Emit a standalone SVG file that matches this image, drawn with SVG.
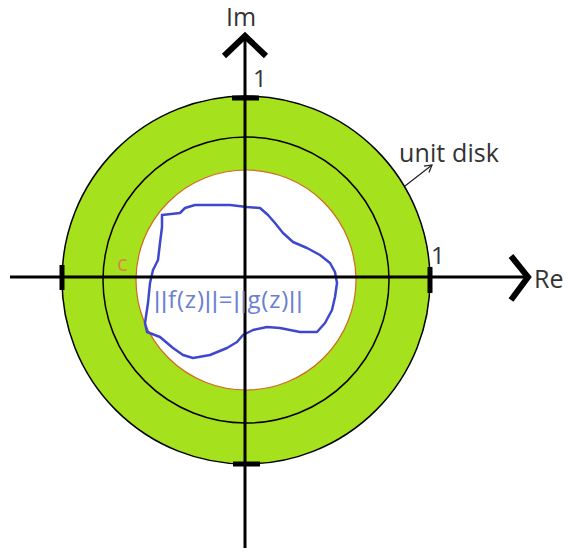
<svg xmlns="http://www.w3.org/2000/svg" width="568" height="553" viewBox="0 0 568 553">
<style>
.lbl{font-family:"Open Sans","Noto Sans",sans-serif;fill:#333}
.ax{stroke:#000;stroke-width:3;fill:none}
.tick{stroke:#000;stroke-width:5}
.head{stroke:#000;stroke-width:6;fill:none;stroke-linecap:butt;stroke-linejoin:miter}
.p{font-family:"Liberation Sans",sans-serif}
</style>
<defs>
<marker id="open" markerWidth="10" markerHeight="10" refX="8" refY="5" orient="auto" markerUnits="userSpaceOnUse">
<path d="M1,1 L8,5 L1,9" fill="none" stroke="#222" stroke-width="1.2"/>
</marker>
</defs>
<rect width="568" height="553" fill="#fff"/>
<g id="annulus">
<circle cx="246" cy="280" r="184" fill="#a5e21d" stroke="#000" stroke-width="1.5"/>
<circle cx="246" cy="280" r="143" fill="none" stroke="#000" stroke-width="1.5"/>
<circle cx="246" cy="280" r="110" fill="#fff" stroke="#d2691e" stroke-width="1.2"/>
</g>
<g id="curve">
<path d="M162,215 L180,213 L185,208 L195,205 L230,205 L247,207 L260,208 L268,215 L275,223 L283,233 L293,242 L307,248 L320,255 L330,263 L335,272 L337,283 L335,297 L332,310 L325,323 L317,332 L300,332 L280,328 L267,327 L253,330 L243,335 L237,342 L227,348 L210,355 L193,358 L183,355 L173,348 L160,337 L147,332 L145,323 L148,303 L150,283 L153,270 L158,260 L160,243 L162,227 Z" fill="none" stroke="#3f48cc" stroke-width="2.5" stroke-linejoin="round"/>
</g>
<g id="connectors">
<line class="ax" x1="10" y1="277" x2="525" y2="277"/>
<line class="ax" x1="245" y1="38" x2="245" y2="548"/>
<path class="head" d="M224,56 L245,36 L266,56"/>
<path class="head" d="M511,256 L528,277 L511,300"/>
<line class="tick" x1="232" y1="98" x2="259" y2="98"/>
<line class="tick" x1="233" y1="464" x2="260" y2="464"/>
<line class="tick" x1="62" y1="265" x2="62" y2="290"/>
<line class="tick" x1="430" y1="267" x2="430" y2="293"/>
<line x1="405" y1="186" x2="432" y2="165" stroke="#222" stroke-width="1.2" marker-end="url(#open)"/>
</g>
<g id="labels">
<text class="lbl" x="226" y="26" font-size="25">Im</text>
<text class="lbl" x="534" y="288" font-size="25">Re</text>
<text class="lbl" x="253" y="87" font-size="24">1</text>
<text class="lbl" x="431" y="264" font-size="24">1</text>
<text class="lbl" x="399" y="162" font-size="25" textLength="100">unit disk</text>
<text x="117" y="271" font-size="22" font-family="Open Sans, Noto Sans, sans-serif" fill="#e0804a">c</text>
<text x="154" y="308" font-size="24" font-family="Open Sans, Noto Sans, sans-serif" fill="#6a80d0" letter-spacing="0.8"><tspan class="p">||</tspan>f(z)<tspan class="p">||</tspan>=<tspan class="p">||</tspan>g(z)<tspan class="p">||</tspan></text>
</g>
</svg>
